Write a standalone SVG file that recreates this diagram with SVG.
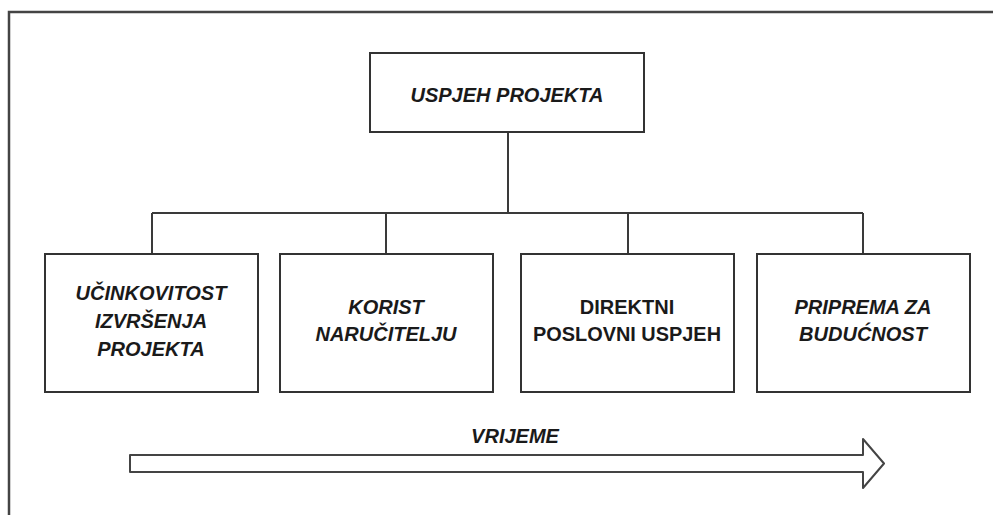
<svg xmlns="http://www.w3.org/2000/svg" width="993" height="515" viewBox="0 0 993 515">
<style>
.box{fill:#fff;stroke:#333;stroke-width:2}
.ln{fill:none;stroke:#3a3a3a;stroke-width:2}
.t{font-family:"Liberation Sans",Arial,sans-serif;font-size:20px;font-weight:bold;font-style:italic;fill:#1a1a1a;text-anchor:middle}
.u{font-style:normal}
</style>
<rect width="993" height="515" fill="#fff"/>
<path d="M9,515 V12 H993" fill="none" stroke="#444" stroke-width="2.5"/>
<g id="connectors">
<path class="ln" d="M508,132 V213"/>
<path class="ln" d="M152,213 H863"/>
<path class="ln" d="M152,213 V254 M386,213 V254 M628,213 V254 M863,213 V254"/>
</g>
<g id="uspjeh">
<rect class="box" x="370" y="53" width="274" height="79"/>
<text class="t" x="507" y="102">USPJEH PROJEKTA</text>
</g>
<g id="ucinkovitost">
<rect class="box" x="45" y="254" width="213" height="138"/>
<text class="t" x="151" y="300">UČINKOVITOST</text>
<text class="t" x="151" y="328">IZVRŠENJA</text>
<text class="t" x="151" y="356">PROJEKTA</text>
</g>
<g id="korist">
<rect class="box" x="280" y="254" width="213" height="138"/>
<text class="t" x="386" y="314">KORIST</text>
<text class="t" x="386" y="341">NARUČITELJU</text>
</g>
<g id="direktni">
<rect class="box" x="521" y="254" width="213" height="138"/>
<text class="t u" x="627" y="314">DIREKTNI</text>
<text class="t u" x="627" y="341" textLength="188" lengthAdjust="spacingAndGlyphs">POSLOVNI USPJEH</text>
</g>
<g id="priprema">
<rect class="box" x="757" y="254" width="213" height="138"/>
<text class="t" x="863" y="314">PRIPREMA ZA</text>
<text class="t" x="863" y="341">BUDUĆNOST</text>
</g>
<g id="vrijeme">
<path d="M130,455 H863 V439 L884,463.5 L863,488 V472 H130 Z" fill="#fff" stroke="#444" stroke-width="2" stroke-linejoin="round"/>
<text class="t" x="515" y="443">VRIJEME</text>
</g>
</svg>
